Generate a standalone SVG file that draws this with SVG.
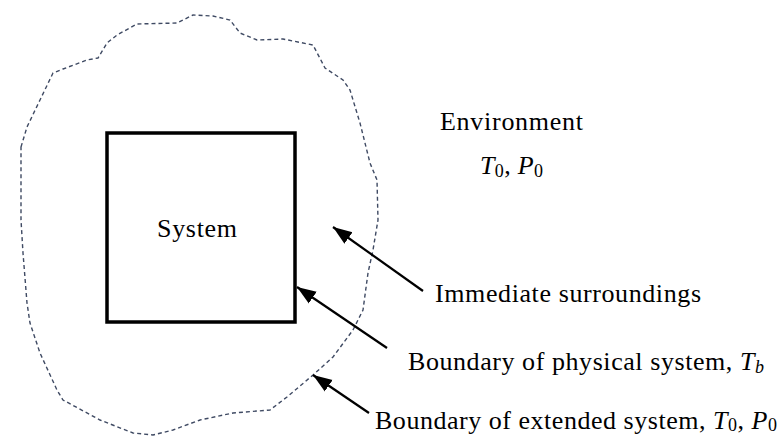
<svg xmlns="http://www.w3.org/2000/svg" width="781" height="437" viewBox="0 0 781 437">
<style>
.t{font-family:"Liberation Serif","Times New Roman",serif;font-size:26px;fill:#000}
.i{font-style:italic}
.s{font-size:18px}
.conn line{stroke:#000;stroke-width:2.2}
.dash{fill:none;stroke:#3f4a63;stroke-width:1.4;stroke-dasharray:4 3}
</style>
<defs>
<marker id="ah" markerUnits="userSpaceOnUse" markerWidth="20" markerHeight="16" viewBox="0 0 20 16" refX="19" refY="8" orient="auto">
<path d="M0,1 L19,8 L0,15 Z" fill="#000"/>
</marker>
</defs>
<rect width="781" height="437" fill="#fff"/>
<g id="extended-boundary">
<path class="dash" d="M21,147 L27,127 L40,100 L53,73 L63,69 L87,60 L98,58 L107,43 L117,35 L137,24 L177,23 L193,15 L213,16 L230,20 L240,33 L257,40 L283,39 L313,45 L325,68 L343,80 L350,90 L360,123 L370,163 L377,180 L378,220 L373,250 L368,273 L363,310 L353,330 L333,357 L313,375 L287,397 L270,410 L233,413 L200,420 L173,430 L153,435 L133,433 L100,420 L63,400 L57,390 L40,353 L30,323 L27,303 L23,253 L21,220 Z"/>
</g>
<g id="system">
<rect x="107" y="133" width="188" height="189" fill="none" stroke="#000" stroke-width="3.5"/>
<text class="t" x="157" y="237" textLength="80">System</text>
</g>
<g id="environment">
<text class="t" x="440" y="130" textLength="143">Environment</text>
<text class="t" x="480" y="174" textLength="63"><tspan class="i">T</tspan><tspan class="s" dy="3">0</tspan><tspan dy="-3">, </tspan><tspan class="i">P</tspan><tspan class="s" dy="3">0</tspan></text>
</g>
<g id="label-immediate">
<text class="t" x="435" y="302" textLength="266">Immediate surroundings</text>
</g>
<g id="label-physical">
<text class="t" x="408" y="370" textLength="356">Boundary of physical system, <tspan class="i">T</tspan><tspan class="s i" dy="3">b</tspan></text>
</g>
<g id="label-extended">
<text class="t" x="375" y="429" textLength="402">Boundary of extended system, <tspan class="i">T</tspan><tspan class="s" dy="2">0</tspan><tspan dy="-2">, </tspan><tspan class="i">P</tspan><tspan class="s" dy="2">0</tspan></text>
</g>
<g id="connectors" class="conn">
<line x1="423" y1="291" x2="333" y2="227" marker-end="url(#ah)"/>
<line x1="387" y1="348" x2="297" y2="287" marker-end="url(#ah)"/>
<line x1="369" y1="413" x2="313" y2="375" marker-end="url(#ah)"/>
</g>
</svg>
